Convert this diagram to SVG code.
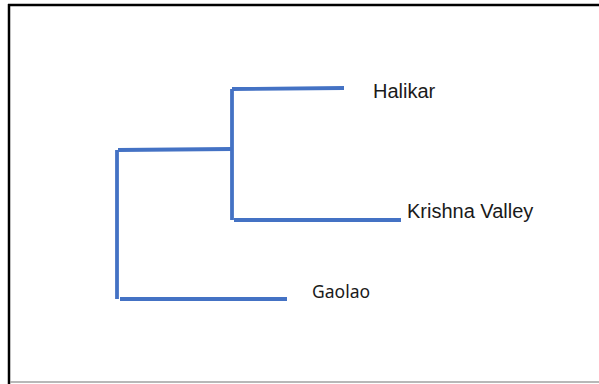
<svg xmlns="http://www.w3.org/2000/svg" width="599" height="384" viewBox="0 0 599 384">
<style>
.ln{stroke:#4472C4;stroke-width:3.8;fill:none;stroke-linecap:butt}
.lbl{font-family:"Liberation Sans",Arial,sans-serif;font-size:20px;fill:#1a1a1a}
.lbl2{font-family:"Noto Sans","Open Sans",sans-serif;font-size:17.5px;fill:#1a1a1a}
</style>
<rect x="0" y="0" width="599" height="384" fill="#ffffff"/>
<g id="frame">
<line x1="8" y1="5" x2="599" y2="5" stroke="#000" stroke-width="2.5"/>
<line x1="9" y1="4" x2="9" y2="384" stroke="#000" stroke-width="2.5"/>
<line x1="10" y1="382" x2="599" y2="382" stroke="#a0a0a0" stroke-width="1.5"/>
</g>
<g id="connectors">
<path class="ln" d="M117,150 V299"/>
<path class="ln" d="M118,150 L232,149"/>
<path class="ln" d="M232,89 V220"/>
<path class="ln" d="M232,89 L344,88"/>
<path class="ln" d="M234,220 H401"/>
<path class="ln" d="M120,299 H287"/>
</g>
<g id="node-halikar"><text class="lbl" x="373" y="98">Halikar</text></g>
<g id="node-krishna"><text class="lbl" x="407" y="218">Krishna Valley</text></g>
<g id="node-gaolao"><text class="lbl2" x="312" y="298">Gaolao</text></g>
</svg>
